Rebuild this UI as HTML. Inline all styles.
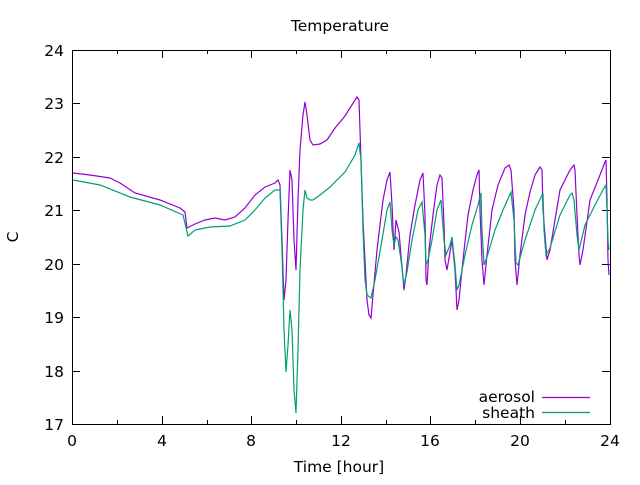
<!DOCTYPE html><html><head><style>body{margin:0;background:#fff}text{font-family:"DejaVu Sans",sans-serif;font-size:15.5px;fill:#000}</style></head><body>
<svg width="640" height="480" xmlns="http://www.w3.org/2000/svg">
<rect x="72.5" y="50.5" width="538" height="374" fill="none" stroke="#000" stroke-width="1"/>
<g stroke="#000" stroke-width="1">
<path d="M72.5 424v-8M72.5 50v8M162.5 424v-8M162.5 50v8M251.5 424v-8M251.5 50v8M341.5 424v-8M341.5 50v8M430.5 424v-8M430.5 50v8M520.5 424v-8M520.5 50v8M117.5 424v-4M117.5 50v4M207.5 424v-4M207.5 50v4M296.5 424v-4M296.5 50v4M386.5 424v-4M386.5 50v4M475.5 424v-4M475.5 50v4M565.5 424v-4M565.5 50v4"/>
<path d="M72 103.5h8M610 103.5h-8M72 157.5h8M610 157.5h-8M72 210.5h8M610 210.5h-8M72 264.5h8M610 264.5h-8M72 317.5h8M610 317.5h-8M72 371.5h8M610 371.5h-8"/>
</g>
<g text-anchor="end"><text x="64" y="56">24</text><text x="64" y="109">23</text><text x="64" y="163">22</text><text x="64" y="216">21</text><text x="64" y="270">20</text><text x="64" y="323">19</text><text x="64" y="377">18</text><text x="64" y="430">17</text></g>
<g text-anchor="middle"><text x="72" y="446">0</text><text x="162" y="446">4</text><text x="251" y="446">8</text><text x="341" y="446">12</text><text x="430" y="446">16</text><text x="520" y="446">20</text><text x="610" y="446">24</text>
<text x="339" y="472">Time [hour]</text><text x="340" y="31">Temperature</text>
<text x="18" y="237" transform="rotate(-90 18 237)">C</text></g>
<polyline fill="none" stroke="#9400d3" stroke-width="1.2" points="73,173 90,175 110,178 120,183 135,193 160,200 180,208 185,212 187,228 195,224 205,220 215,218 225,220 235,217 245,208 255,195 265,187 275,183 278,180 280,185 282,240 284,300 286,280 288,220 290,170 292,180 294,240 296,270 298,200 300,150 303,115 305,102 307,115 310,140 313,145 320,144 327,140 335,128 345,116 355,100 357,97 359,100 361,160 363,220 365,260 367,300 369,315 371,318 373,295 377,250 383,200 387,180 390,172 392,205 394,250 396,220 399,232 401,255 404,290 406,275 410,235 415,205 420,180 423,173 425,215 426,280 427,285 429,250 433,215 437,185 440,175 442,178 444,225 445,260 447,270 450,252 452,240 455,270 457,310 459,300 463,260 468,215 473,190 477,175 479,170 480,210 482,260 484,285 487,255 492,210 498,185 505,168 509,165 511,170 514,210 515,260 517,285 520,255 525,215 530,192 535,175 540,167 542,170 543,210 547,260 550,250 555,220 560,190 565,180 570,170 574,165 575,170 577,215 579,255 580,265 583,250 590,200 600,175 605,162 606,160 607,200 608,260 609,275"/>
<polyline fill="none" stroke="#009e73" stroke-width="1.2" points="73,180 100,185 130,197 160,205 183,215 188,236 195,230 210,227 230,226 245,220 255,210 265,198 275,190 280,190 282,250 284,330 286,372 288,345 290,310 292,330 294,390 296,413 298,350 300,270 303,210 305,190 307,198 310,200 313,200 320,195 330,187 345,172 355,155 359,143 361,160 363,230 365,280 367,295 371,298 375,280 382,240 387,210 390,202 392,230 394,245 396,237 398,240 401,260 404,285 407,272 412,240 418,210 422,202 425,235 426,265 428,260 432,240 437,210 441,200 444,240 446,255 450,245 452,237 455,265 457,290 459,285 465,255 472,225 478,205 481,193 482,230 484,265 487,257 495,230 503,210 511,192 514,220 516,263 518,265 525,240 535,210 543,193 544,230 546,255 550,248 560,215 570,195 572,193 574,200 577,235 579,250 585,225 595,205 604,188 606,185 607,210 608,240 609,250"/>
<g text-anchor="end"><text x="535" y="402">aerosol</text><text x="535" y="418">sheath</text></g>
<path d="M542 397.5h48" stroke="#9400d3" stroke-width="1.2"/>
<path d="M542 412.5h48" stroke="#009e73" stroke-width="1.2"/>
</svg></body></html>
